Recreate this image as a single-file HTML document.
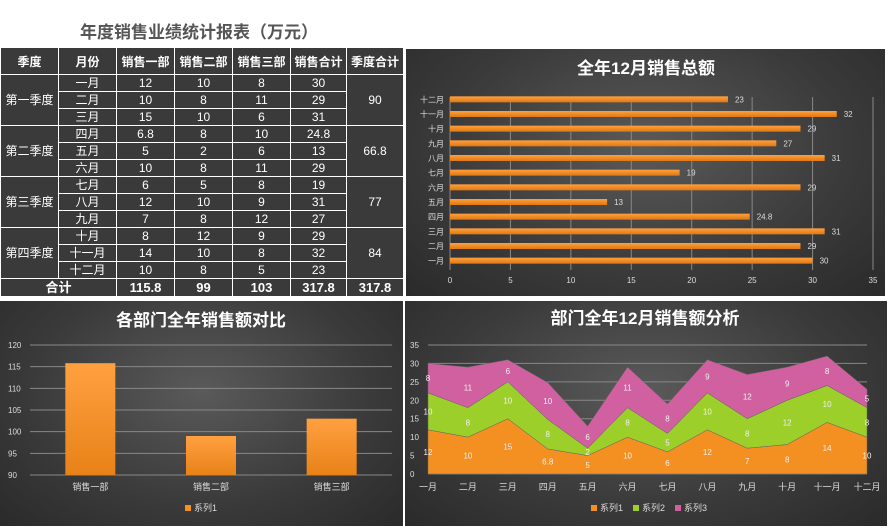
<!DOCTYPE html>
<html><head><meta charset="utf-8"><style>
body{margin:0;width:889px;height:526px;background:#fff;position:relative;overflow:hidden;font-family:"Liberation Sans","Noto Sans CJK SC",sans-serif}
.title{position:absolute;left:80px;top:18px;font-size:17px;font-weight:bold;color:#555}
table{position:absolute;left:0;top:47px;border-collapse:collapse;background:#3a3a3a;color:#fff;font-size:12px;table-layout:fixed}
td{border:1px solid #fff;text-align:center;height:16px;padding:0;line-height:16px}
th{border:1px solid #fff;height:24px;font-size:12px;font-weight:bold}
.panel{position:absolute;background:radial-gradient(ellipse at 50% 40%,#5a5a5a 0%,#3a3a3a 60%,#2a2a2a 100%)}
svg text{font-family:"Liberation Sans","Noto Sans CJK SC",sans-serif}
</style></head><body>
<div class="title">年度销售业绩统计报表（万元）</div>
<table>
<colgroup><col style="width:58px"><col style="width:58px"><col style="width:58px"><col style="width:58px"><col style="width:58px"><col style="width:56px"><col style="width:57px"></colgroup>
<tr><th>季度</th><th>月份</th><th>销售一部</th><th>销售二部</th><th>销售三部</th><th>销售合计</th><th>季度合计</th></tr>
<tr><td rowspan="3">第一季度</td><td>一月</td><td>12</td><td>10</td><td>8</td><td>30</td><td rowspan="3">90</td></tr>
<tr><td>二月</td><td>10</td><td>8</td><td>11</td><td>29</td></tr>
<tr><td>三月</td><td>15</td><td>10</td><td>6</td><td>31</td></tr>
<tr><td rowspan="3">第二季度</td><td>四月</td><td>6.8</td><td>8</td><td>10</td><td>24.8</td><td rowspan="3">66.8</td></tr>
<tr><td>五月</td><td>5</td><td>2</td><td>6</td><td>13</td></tr>
<tr><td>六月</td><td>10</td><td>8</td><td>11</td><td>29</td></tr>
<tr><td rowspan="3">第三季度</td><td>七月</td><td>6</td><td>5</td><td>8</td><td>19</td><td rowspan="3">77</td></tr>
<tr><td>八月</td><td>12</td><td>10</td><td>9</td><td>31</td></tr>
<tr><td>九月</td><td>7</td><td>8</td><td>12</td><td>27</td></tr>
<tr><td rowspan="3">第四季度</td><td>十月</td><td>8</td><td>12</td><td>9</td><td>29</td><td rowspan="3">84</td></tr>
<tr><td>十一月</td><td>14</td><td>10</td><td>8</td><td>32</td></tr>
<tr><td>十二月</td><td>10</td><td>8</td><td>5</td><td>23</td></tr>
<tr style="font-weight:bold;font-size:13px"><td colspan="2" style="height:17px">合计</td><td>115.8</td><td>99</td><td>103</td><td>317.8</td><td>317.8</td></tr>
</table>

<div class="panel" style="left:406px;top:49px;width:479px;height:247px">
<svg id="c1" width="479" height="247"></svg></div>
<div class="panel" style="left:0;top:301px;width:403px;height:225px">
<svg id="c2" width="403" height="225"></svg></div>
<div class="panel" style="left:405px;top:301px;width:482px;height:225px">
<svg id="c3" width="482" height="225"></svg></div>

<script>
const months=['一月','二月','三月','四月','五月','六月','七月','八月','九月','十月','十一月','十二月'];
const totals=[30,29,31,24.8,13,29,19,31,27,29,32,23];
const xTicks1=[0,5,10,15,20,25,30,35];
const depts=['销售一部','销售二部','销售三部'];
const deptTotals=[115.8,99,103];
const yTicks2=[90,95,100,105,110,115,120];
const s1=[12,10,15,6.8,5,10,6,12,7,8,14,10];
const s2=[10,8,10,8,2,8,5,10,8,12,10,8];
const s3=[8,11,6,10,6,11,8,9,12,9,8,5];
const yTicks3=[0,5,10,15,20,25,30,35];
const NS='http://www.w3.org/2000/svg';
function mk(svg,tag,attrs,txt){const e=document.createElementNS(NS,tag);for(const k in attrs)e.setAttribute(k,attrs[k]);if(txt!==undefined)e.textContent=txt;svg.appendChild(e);return e;}
function defs(svg,id,c1,c2,vert){const d=mk(svg,'defs',{});const g=document.createElementNS(NS,'linearGradient');g.setAttribute('id',id);g.setAttribute('x1','0');g.setAttribute('y1','0');g.setAttribute('x2',vert?'0':'0');g.setAttribute('y2','1');d.appendChild(g);[[0,c1],[1,c2]].forEach(s=>{const st=document.createElementNS(NS,'stop');st.setAttribute('offset',s[0]);st.setAttribute('stop-color',s[1]);g.appendChild(st);});}

// chart 1
(function(){const svg=document.getElementById('c1');defs(svg,'g1','#ffa040','#e07810');
const t=mk(svg,'text',{x:240,y:25,'text-anchor':'middle','font-size':17,'font-weight':'bold',fill:'#fff'},'全年12月销售总额');

const x0=44,x1=467,top=43,bot=219;const xs=v=>x0+(x1-x0)*v/35;
const step=(bot-top)/12;const yc=i=>bot-step*(i+0.5);
xTicks1.forEach(v=>{const l=mk(svg,'line',{x1:xs(v),x2:xs(v),y1:top+5,y2:bot+2,stroke:'#888','stroke-width':1});
const tx=mk(svg,'text',{x:xs(v),y:234,'text-anchor':'middle','font-size':8,fill:'#ddd'},v);});
months.forEach((m,i)=>{const y=yc(i);
const r=mk(svg,'rect',{x:x0,y:y-3,width:xs(totals[i])-x0,height:6,fill:'url(#g1)'});
const l=mk(svg,'text',{x:x0-6,y:y+3,'text-anchor':'end','font-size':8,fill:'#ddd'},m);
const v=mk(svg,'text',{x:xs(totals[i])+7,y:y+3,'font-size':8,fill:'#ddd'},totals[i]);});
})();

// chart 2
(function(){const svg=document.getElementById('c2');defs(svg,'g2','#ffa040','#e88218');
const t=mk(svg,'text',{x:201,y:25,'text-anchor':'middle','font-size':17,'font-weight':'bold',fill:'#fff'},'各部门全年销售额对比');

const x0=30,x1=392,y0=174,y1=44;const ys=v=>y0-(y0-y1)*(v-90)/30;
yTicks2.forEach(v=>{const l=mk(svg,'line',{x1:x0,x2:x1,y1:ys(v),y2:ys(v),stroke:'#888','stroke-width':1});
const tx=mk(svg,'text',{x:8,y:ys(v)+3,'font-size':8,fill:'#ddd'},v);});
const bw=(x1-x0)/3;
depts.forEach((d,i)=>{const cx=x0+bw*(i+0.5);
const r=mk(svg,'rect',{x:cx-25,y:ys(deptTotals[i]),width:50,height:y0-ys(deptTotals[i]),fill:'url(#g2)'});
const l=mk(svg,'text',{x:cx,y:189,'text-anchor':'middle','font-size':9,fill:'#ddd'},d);});
const lr=mk(svg,'rect',{x:185,y:204,width:6,height:6,fill:'#f39021'});
const lt=mk(svg,'text',{x:194,y:210,'font-size':9,fill:'#ddd'},'系列1');
})();

// chart 3
(function(){const svg=document.getElementById('c3');
const t=mk(svg,'text',{x:240,y:23,'text-anchor':'middle','font-size':17,'font-weight':'bold',fill:'#fff'},'部门全年12月销售额分析');

const x0=23,x1=462,y0=173,y1=44;const ys=v=>y0-(y0-y1)*v/35;const xs=i=>x0+(x1-x0)*i/11;
yTicks3.forEach(v=>{const l=mk(svg,'line',{x1:x0,x2:x1,y1:ys(v),y2:ys(v),stroke:'#888','stroke-width':1});
const tx=mk(svg,'text',{x:5,y:ys(v)+3,'font-size':8,fill:'#ddd'},v);});
const series=[s1,s2,s3];const cols=['#f39021','#9ccf2a','#d060a0'];const names=['系列1','系列2','系列3'];
const cum=[];let base=months.map(()=>0);
series.forEach((s,k)=>{const top=s.map((v,i)=>base[i]+v);cum.push({lo:base,hi:top});base=top;});
cum.forEach((c,k)=>{let d='M'+months.map((m,i)=>xs(i)+','+ys(c.hi[i])).join(' L');
for(let i=11;i>=0;i--)d+=' L'+xs(i)+','+ys(c.lo[i]);d+='Z';
const p=mk(svg,'path',{d:d,fill:cols[k],stroke:'#666','stroke-width':0.5});
series[k].forEach((v,i)=>{const tx=mk(svg,'text',{x:xs(i),y:ys((c.lo[i]+c.hi[i])/2)+3,'text-anchor':'middle','font-size':8,fill:'#f0f0f0'},v);});});
months.forEach((m,i)=>{const tx=mk(svg,'text',{x:xs(i),y:189,'text-anchor':'middle','font-size':9,fill:'#ddd'},m);});
names.forEach((n,k)=>{const lx=186+k*42;
const r=mk(svg,'rect',{x:lx,y:204,width:6,height:6,fill:cols[k]});
const tx=mk(svg,'text',{x:lx+9,y:210,'font-size':9,fill:'#ddd'},n);});
})();
</script>
</body></html>
